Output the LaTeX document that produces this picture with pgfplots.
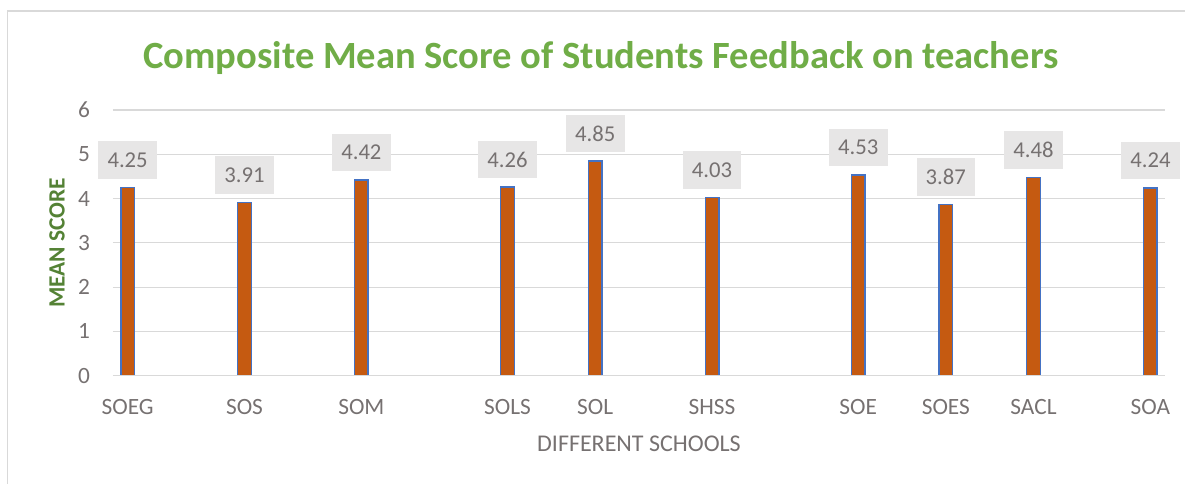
\documentclass[border=0pt]{standalone}
\usepackage{pgfplots}
\pgfplotsset{compat=1.18}
\usepackage{fontspec}
\setmainfont{Carlito}
\definecolor{barfill}{HTML}{C55A11}
\definecolor{barline}{HTML}{4472C4}
\definecolor{gridc}{HTML}{D9D9D9}
\definecolor{txtgray}{HTML}{767171}
\definecolor{lblbox}{HTML}{E7E6E6}
\definecolor{titlegreen}{HTML}{70AD47}
\definecolor{axgreen}{HTML}{548235}
\begin{document}
\begin{tikzpicture}
\useasboundingbox (0,0) rectangle (888.75pt,363pt);
\begin{axis}[
  at={(84.75pt,81.2pt)}, anchor=south west,
  scale only axis, width=789pt, height=199.3pt,
  xmin=0, xmax=36, ymin=0, ymax=6,
  ytick={0,1,2,3,4,5,6},
  xtick={0.5,4.5,8.5,13.5,16.5,20.5,25.5,28.5,31.5,35.5},
  xticklabels={SOEG,SOS,SOM,SOLS,SOL,SHSS,SOE,SOES,SACL,SOA},
  axis line style={draw=none},
  major tick length=0pt,
  ymajorgrids, grid style={gridc, line width=0.9pt},
  /pgf/number format/assume math mode=true,
  tick label style={font=\fontsize{17.5}{20}\selectfont, text=txtgray},
  xticklabel style={anchor=center, inner sep=0pt, yshift=-23.5pt},
  yticklabel style={anchor=east, inner sep=0pt, xshift=-17pt},
  xlabel={DIFFERENT SCHOOLS},
  xlabel style={at={(axis description cs:0.5,-0.258)}, anchor=center, font=\fontsize{18}{20}\selectfont, text=txtgray},
  ylabel={\textbf{MEAN SCORE}},
  ylabel style={at={(axis description cs:-0.0532,0.5)}, anchor=center, font=\fontsize{17.5}{20}\selectfont, text=axgreen},
  ybar, bar width=10.15pt, bar shift=0pt,
  nodes near coords={\pgfmathprintnumber[fixed,precision=2,fixed zerofill]{\pgfplotspointmeta}},
  every node near coord/.append style={font=\fontsize{17}{20}\selectfont, text=txtgray, fill=lblbox, minimum width=44pt, minimum height=28pt, inner sep=0pt, anchor=south, yshift=6pt},
]
\addplot[fill=barfill, draw=barline, line width=1.1pt] coordinates {
(0.5,4.25) (4.5,3.91) (8.5,4.42) (13.5,4.26) (16.5,4.85) (20.5,4.03) (25.5,4.53) (28.5,3.87) (31.5,4.48) (35.5,4.24)};
\draw[gridc, line width=0.9pt] (axis cs:0,0) -- (axis cs:36,0);
\end{axis}
\draw[gridc, line width=0.9pt] (5.6pt,0) -- (5.6pt,354.75pt) -- (888.75pt,354.75pt);
\node[font=\fontsize{28.9}{32}\selectfont\bfseries, text=titlegreen, anchor=center] at (450.75pt,319.5pt) {Composite Mean Score of Students Feedback on teachers};
\end{tikzpicture}
\end{document}
